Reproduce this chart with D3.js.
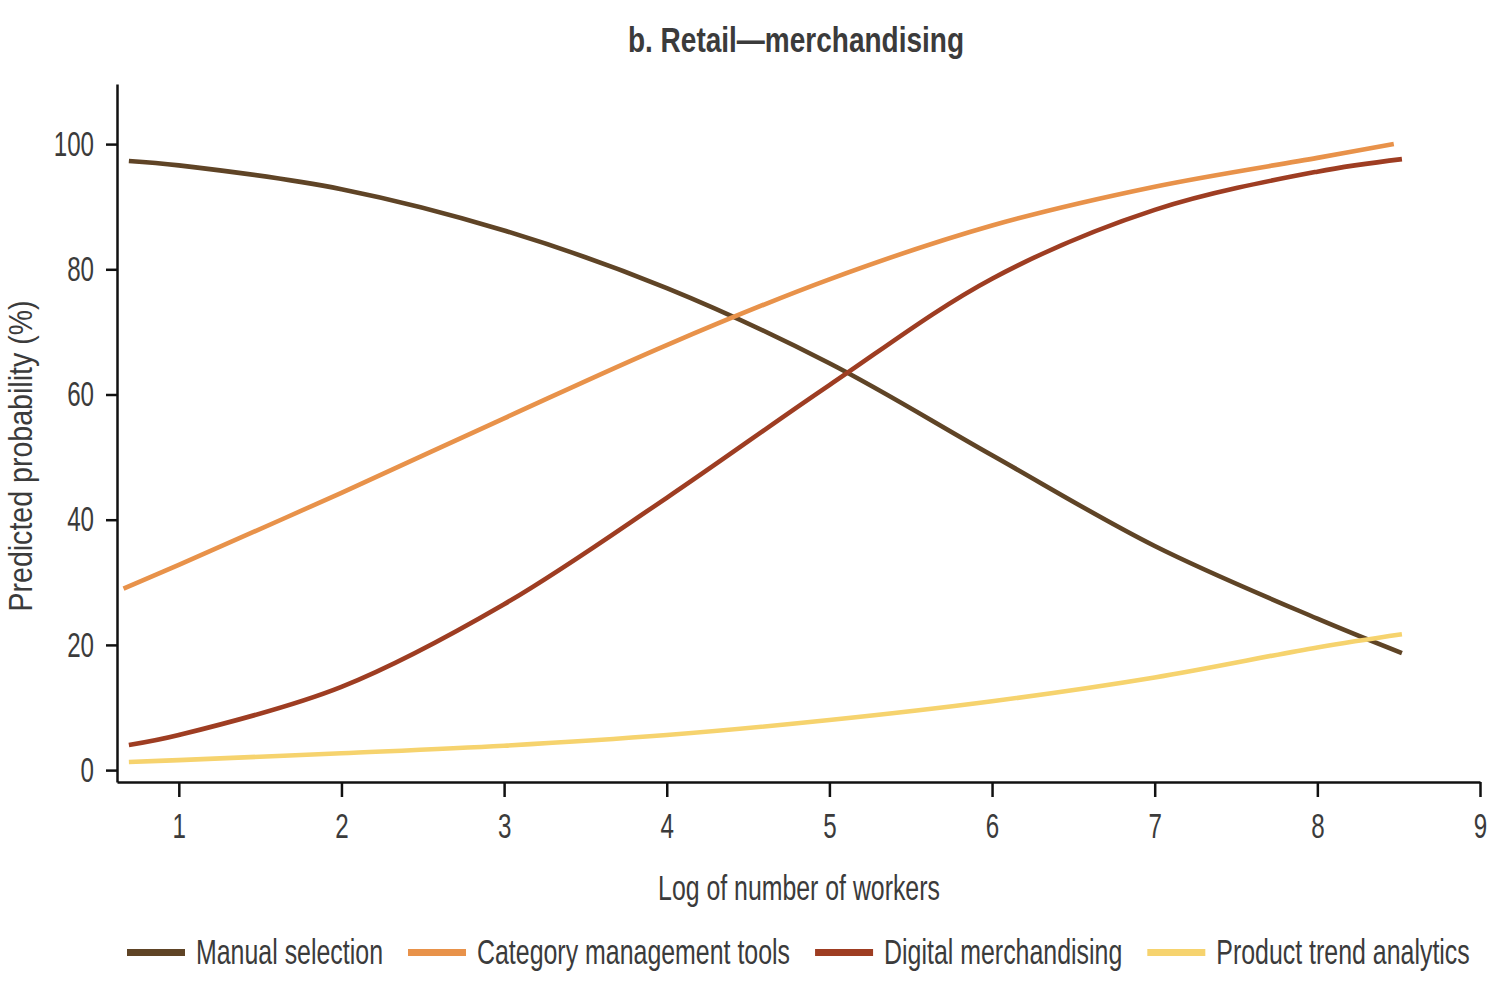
<!DOCTYPE html>
<html>
<head>
<meta charset="utf-8">
<script src="https://cdn.jsdelivr.net/npm/d3@7"></script>
<style>
  body { margin: 0; background: #fff; }
  text { font-family: "Liberation Sans", Arial, sans-serif; fill: #3b3b3b; }
</style>
</head>
<body>
<script>
var svgWidth = 1498;
var svgHeight = 982;

// log of number of workers where each curve was read
var xPoints = [0.693, 1, 2, 3, 4, 5, 6, 7, 8, 8.52];
var xCategory = [0.66, 1, 2, 3, 4, 5, 6, 7, 8, 8.47];

var manualSelection = [97.3, 96.6, 92.8, 86.2, 77.0, 65.0, 50.3, 35.8, 24.2, 18.7];
var categoryTools = [29.0, 32.8, 44.3, 56.2, 67.9, 78.4, 87.0, 93.2, 97.8, 100.0];
var digitalMerch = [4.0, 5.6, 13.3, 26.5, 43.5, 61.5, 78.5, 89.5, 95.6, 97.6];
var trendAnalytics = [1.3, 1.6, 2.7, 3.9, 5.6, 8.0, 11.0, 14.8, 19.6, 21.7];

var seriesNames = ["Manual selection", "Category management tools", "Digital merchandising", "Product trend analytics"];
var seriesColors = ["#5f4426", "#e8924a", "#9e3d22", "#f6d36e"];

var xTicks = [1, 2, 3, 4, 5, 6, 7, 8, 9];
var yTicks = [0, 20, 40, 60, 80, 100];

var series = [
  { name: seriesNames[0], color: seriesColors[0], x: xPoints, y: manualSelection },
  { name: seriesNames[1], color: seriesColors[1], x: xCategory, y: categoryTools },
  { name: seriesNames[2], color: seriesColors[2], x: xPoints, y: digitalMerch },
  { name: seriesNames[3], color: seriesColors[3], x: xPoints, y: trendAnalytics }
];

var svg = d3.select("body")
  .append("svg")
  .attr("width", svgWidth)
  .attr("height", svgHeight);

// the source font is a condensed face, so squeeze each label horizontally
function squeeze(sel, factor) {
  sel.each(function() {
    var len = this.getComputedTextLength();
    d3.select(this)
      .attr("textLength", len * factor)
      .attr("lengthAdjust", "spacingAndGlyphs");
  });
}

var xScale = d3.scaleLinear()
  .domain([0.62, 9])
  .range([117, 1480]);

var yScale = d3.scaleLinear()
  .domain([-1.9, 109.6])
  .range([782, 84]);

// axes
var bottomAxis = d3.axisBottom(xScale)
  .tickValues(xTicks)
  .tickFormat(d3.format("d"))
  .tickSize(15)
  .tickSizeOuter(0)
  .tickPadding(16);

var leftAxis = d3.axisLeft(yScale)
  .tickValues(yTicks)
  .tickSize(11)
  .tickSizeOuter(0)
  .tickPadding(12);

var xAxisG = svg.append("g")
  .attr("transform", "translate(0, 782)")
  .call(bottomAxis);

var yAxisG = svg.append("g")
  .attr("transform", "translate(117, 0)")
  .call(leftAxis);

[xAxisG, yAxisG].forEach(function(g) {
  g.select(".domain").attr("stroke", "#111").attr("stroke-width", 2.5);
  g.selectAll(".tick line").attr("stroke", "#111").attr("stroke-width", 2.5);
  g.selectAll(".tick text")
    .attr("fill", "#3b3b3b")
    .style("font-family", "'Liberation Sans', Arial, sans-serif")
    .style("font-size", "35px")
    .call(squeeze, 0.69);
});

// lines
var line = d3.line()
  .x(d => xScale(d[0]))
  .y(d => yScale(d[1]))
  .curve(d3.curveCatmullRom.alpha(0.5));

svg.append("g")
  .selectAll("path")
  .data(series)
  .enter()
  .append("path")
  .attr("fill", "none")
  .attr("stroke", d => d.color)
  .attr("stroke-width", 4.6)
  .attr("d", d => line(d.x.map((v, i) => [v, d.y[i]])));

// titles
svg.append("text")
  .attr("x", 796)
  .attr("y", 52)
  .attr("text-anchor", "middle")
  .style("font-size", "35px")
  .style("font-weight", "bold")
  .text("b. Retail\u2014merchandising")
  .call(squeeze, 0.80);

svg.append("text")
  .attr("x", 799)
  .attr("y", 900)
  .attr("text-anchor", "middle")
  .style("font-size", "35px")
  .text("Log of number of workers")
  .call(squeeze, 0.71);

svg.append("text")
  .attr("transform", "translate(32, 456) rotate(-90)")
  .attr("text-anchor", "middle")
  .style("font-size", "34px")
  .text("Predicted probability (%)")
  .call(squeeze, 0.84);

// legend
var legend = svg.append("g");
var lx = 127;
series.forEach(function(s) {
  legend.append("rect")
    .attr("x", lx)
    .attr("y", 949)
    .attr("width", 58)
    .attr("height", 7)
    .attr("fill", s.color);
  var t = legend.append("text")
    .attr("x", lx + 69)
    .attr("y", 964)
    .style("font-size", "35px")
    .text(s.name)
    .call(squeeze, 0.712);
  lx += 69 + (+t.attr("textLength")) + 25;
});
</script>
</body>
</html>
